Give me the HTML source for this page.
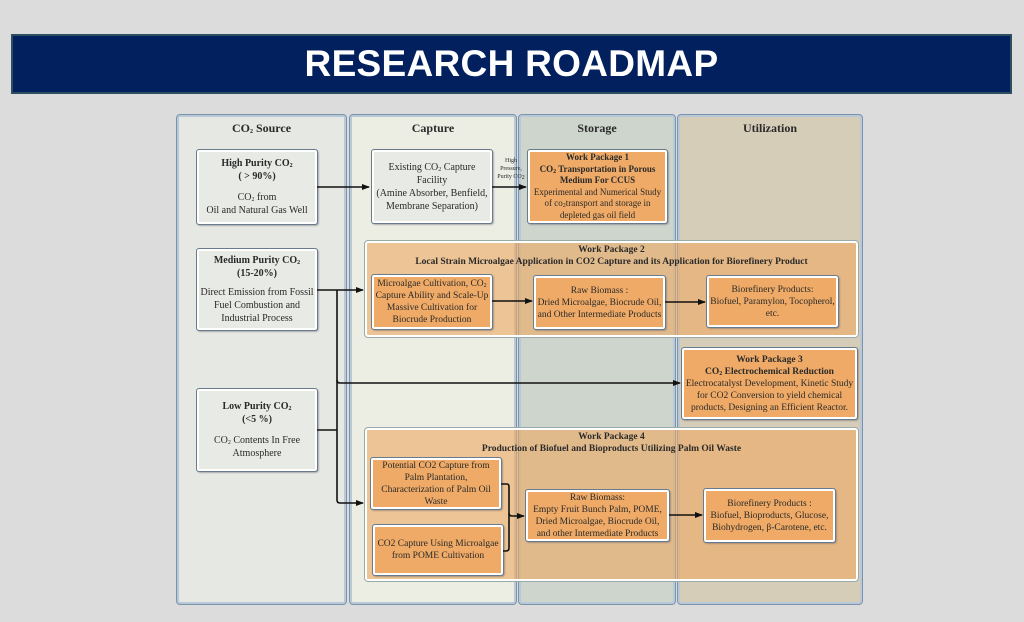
<!DOCTYPE html>
<html><head><meta charset="utf-8"><style>
*{margin:0;padding:0;box-sizing:border-box}
body{width:1024px;height:622px;background:#dcdcdc;position:relative;overflow:hidden;font-family:"Liberation Serif",serif;color:#2a2a2a}
.ban{position:absolute;left:11px;top:34px;width:1001px;height:60px;background:#03205e;border:2px solid #2c4f60;color:#fff;font:bold 37px "Liberation Sans",sans-serif;text-align:center;line-height:56px;letter-spacing:0.3px}
.col{position:absolute;top:115px;height:489px;border:2px solid #b8c8d8;outline:1px solid #7a94aa;border-radius:3px}
.hd{position:absolute;top:121px;font-weight:bold;font-size:12px;text-align:center}
.b{position:absolute;display:flex;justify-content:center;align-items:center;text-align:center;font-size:9.5px;line-height:12px;border:2px solid #fff;outline:1px solid #6a7c8c;border-radius:2px;box-shadow:1px 1px 2px #556;padding:0 1px}
.b>div{width:100%}
.g{background:#e8eae6;font-size:10px;line-height:13px}
.o{background:#eeaa66}
.band{position:absolute;background:rgba(238,170,100,0.62);border:2px solid #fff;outline:1px solid #9aa;border-radius:3px}
.bt{position:absolute;font-weight:bold;font-size:9.5px;text-align:center;line-height:12px}
b{font-weight:bold}
sub{font-size:6px;vertical-align:-1px;line-height:0}
svg{position:absolute;left:0;top:0}
</style></head><body>
<div class="ban">RESEARCH ROADMAP</div>
<div class="col" style="left:177px;width:169px;background:#e6e8e4"></div>
<div class="col" style="left:350px;width:166px;background:#eceee4"></div>
<div class="col" style="left:519px;width:156px;background:#cdd5cc"></div>
<div class="col" style="left:678px;width:184px;background:#d6cdb8"></div>
<div class="hd" style="left:177px;width:169px">CO<sub>2</sub> Source</div>
<div class="hd" style="left:350px;width:166px">Capture</div>
<div class="hd" style="left:519px;width:156px">Storage</div>
<div class="hd" style="left:678px;width:184px">Utilization</div>

<div class="band" style="left:365px;top:241px;width:493px;height:96px"></div>
<div class="bt" style="left:365px;top:244px;width:493px">Work Package 2<br>Local Strain Microalgae Application in CO2 Capture and its Application for Biorefinery Product</div>
<div class="band" style="left:365px;top:428px;width:493px;height:153px"></div>
<div class="bt" style="left:365px;top:431px;width:493px">Work Package 4<br>Production of Biofuel and Bioproducts Utilizing Palm Oil Waste</div>

<div class="b g" style="left:197px;top:150px;width:120px;height:74px"><div><b>High Purity CO<sub>2</sub><br>( &gt; 90%)</b><div style="height:8px"></div>CO<sub>2</sub> from<br>Oil and Natural Gas Well</div></div>
<div class="b g" style="left:197px;top:249px;width:120px;height:81px"><div><b>Medium Purity CO<sub>2</sub><br>(15-20%)</b><div style="height:6px"></div>Direct Emission from Fossil Fuel Combustion and Industrial Process</div></div>
<div class="b g" style="left:197px;top:389px;width:120px;height:82px"><div><b>Low Purity CO<sub>2</sub><br>(&lt;5 %)</b><div style="height:8px"></div>CO<sub>2</sub> Contents In Free Atmosphere</div></div>
<div class="b g" style="left:372px;top:150px;width:120px;height:73px"><div>Existing CO<sub>2</sub> Capture Facility<br>(Amine Absorber, Benfield, Membrane Separation)</div></div>
<div class="b o" style="left:528px;top:150px;width:139px;height:73px;font-size:9px;line-height:11.5px"><div><b>Work Package 1<br>CO<sub>2</sub> Transportation in Porous Medium For CCUS</b><br>Experimental and Numerical Study of co<sub>2</sub>transport and storage in depleted gas oil field</div></div>
<div class="b o" style="left:372px;top:275px;width:120px;height:54px"><div>Microalgae Cultivation, CO<sub>2</sub> Capture Ability and Scale-Up Massive Cultivation for Biocrude Production</div></div>
<div class="b o" style="left:534px;top:276px;width:131px;height:53px"><div>Raw Biomass :<br>Dried Microalgae, Biocrude Oil, and Other Intermediate Products</div></div>
<div class="b o" style="left:707px;top:276px;width:131px;height:51px"><div>Biorefinery Products:<br>Biofuel, Paramylon, Tocopherol, etc.</div></div>
<div class="b o" style="left:682px;top:348px;width:175px;height:71px"><div><b>Work Package 3<br>CO<sub>2</sub> Electrochemical Reduction</b><br>Electrocatalyst Development, Kinetic Study for CO2 Conversion to yield chemical products, Designing an Efficient Reactor.</div></div>
<div class="b o" style="left:371px;top:458px;width:130px;height:51px"><div>Potential CO2 Capture from Palm Plantation, Characterization of Palm Oil Waste</div></div>
<div class="b o" style="left:373px;top:525px;width:130px;height:50px"><div>CO2 Capture Using Microalgae from POME Cultivation</div></div>
<div class="b o" style="left:526px;top:490px;width:143px;height:51px"><div>Raw Biomass:<br>Empty Fruit Bunch Palm, POME, Dried Microalgae, Biocrude Oil, and other Intermediate Products</div></div>
<div class="b o" style="left:704px;top:489px;width:131px;height:53px"><div>Biorefinery Products :<br>Biofuel, Bioproducts, Glucose, Biohydrogen, β-Carotene, etc.</div></div>
<div style="position:absolute;left:496px;top:157px;width:30px;font-size:6px;line-height:8px;text-align:center">High Pressure, Purity CO<sub>2</sub></div>

<svg width="1024" height="622">
<defs><marker id="a" markerWidth="8" markerHeight="6" refX="7" refY="3" orient="auto" markerUnits="userSpaceOnUse"><path d="M0,0L8,3L0,6z" fill="#111"/></marker></defs>
<g stroke="#111" stroke-width="1.6" fill="none">
<line x1="317" y1="187" x2="369" y2="187" marker-end="url(#a)"/>
<line x1="492" y1="187" x2="526" y2="187" marker-end="url(#a)"/>
<line x1="317" y1="290" x2="363" y2="290" marker-end="url(#a)"/>
<line x1="492" y1="301" x2="532" y2="301" marker-end="url(#a)"/>
<line x1="665" y1="302" x2="705" y2="302" marker-end="url(#a)"/>
<path d="M337,290 V500 Q337,503 340,503 H363" marker-end="url(#a)"/>
<path d="M337,380 Q337,383 340,383 H680" marker-end="url(#a)"/>
<line x1="317" y1="430" x2="337" y2="430"/>
<path d="M501,484 H507 Q509,484 509,487 V548 Q509,551 506,551 H503"/>
<path d="M509,513 Q509,516 512,516 H524" marker-end="url(#a)"/>
<line x1="669" y1="515" x2="702" y2="515" marker-end="url(#a)"/>
</g></svg>
</body></html>
